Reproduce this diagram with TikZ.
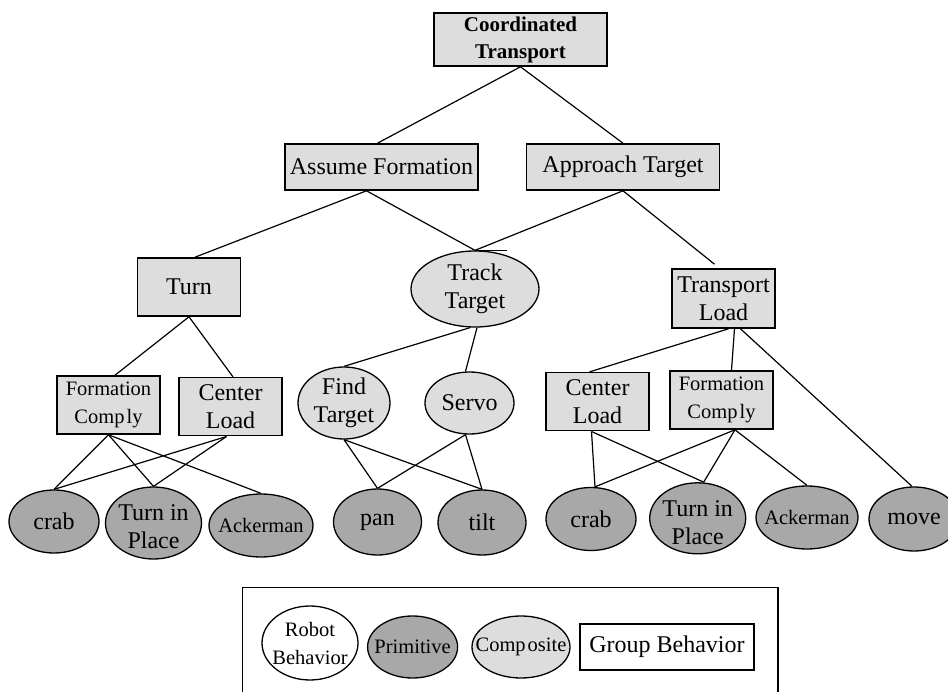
\documentclass[tikz,border=0pt]{standalone}
\usepackage{fontspec}
\setmainfont{Liberation Serif}
\usetikzlibrary{shapes.geometric}
\definecolor{compfill}{RGB}{221,221,221}
\definecolor{primfill}{RGB}{168,168,168}
\newcommand{\bhvbig}{\fontsize{24}{28}\selectfont}
\newcommand{\bhvsmall}{\fontsize{20.5}{28}\selectfont}
\newcommand{\bhvtitle}{\fontsize{21}{27}\selectfont\bfseries}
\begin{document}
\begin{tikzpicture}[x=1pt,y=-1pt,
  grp/.style={draw, fill=compfill, line width=1.6pt, inner sep=0pt, align=center, font=\bhvbig},
  plain/.style={draw, fill=white, line width=1.6pt, inner sep=0pt, align=center, font=\bhvbig},
  comp/.style={ellipse, draw, fill=compfill, line width=1.3pt, inner sep=0pt},
  prim/.style={ellipse, draw, fill=primfill, line width=1.3pt, inner sep=0pt},
  robot/.style={ellipse, draw, fill=white, line width=1.3pt, inner sep=0pt},
  lbl/.style={inner sep=0pt, align=center, font=\bhvbig},
  lblsmall/.style={inner sep=0pt, align=center, font=\bhvsmall},
  link/.style={line width=1.2pt}]
\clip (0,0) rectangle (948,692);

% group behaviours (boxes)
\node[grp, font=\bhvtitle, minimum width=173pt, minimum height=53pt] (ct) at (520.5,39.5) {Coordinated\\Transport};
\node[grp, minimum width=193pt, minimum height=46pt] (af) at (381.5,167) {Assume Formation};
\node[grp, minimum width=193pt, minimum height=46pt] (at) at (623,167) {Approach Target};
\node[grp, minimum width=103pt, minimum height=58pt] (turn) at (189,287) {Turn};
\node[grp, minimum width=103pt, minimum height=59pt] (tl) at (723.5,298.5) {Transport\\Load};
\node[grp, font=\bhvsmall, minimum width=103pt, minimum height=58pt] (fcl) at (108.5,405) {Formation\\Comp\kern2pt ly};
\node[grp, minimum width=103pt, minimum height=58pt] (cll) at (230.5,406.7) {Center\\Load};
\node[grp, minimum width=103pt, minimum height=58pt] (clr) at (597.5,401.7) {Center\\Load};
\node[grp, font=\bhvsmall, minimum width=103pt, minimum height=58pt] (fcr) at (721.5,400) {Formation\\Comp\kern2pt ly};

% composite robot behaviours
\node[comp, minimum width=128pt, minimum height=76pt] (tt) at (475,289) {};
\node[lbl] (tt-t) at (tt.center) {Track\\Target};
\node[comp, minimum width=92pt, minimum height=72pt] (ft) at (344,403) {};
\node[lbl] (ft-t) at (ft.center) {Find\\Target};
\node[comp, minimum width=89pt, minimum height=62pt] (servo) at (469.5,403) {};
\node[lbl] (servo-t) at (servo.center) {Servo};

% primitive robot behaviours
\node[prim, minimum width=90pt, minimum height=63pt] (crabl) at (54,521.5) {};
\node[lbl] (crabl-t) at (crabl.center) {crab};
\node[prim, minimum width=96pt, minimum height=72pt] (tipl) at (153.5,523) {};
\node[lbl] (tipl-t) at ([yshift=-4pt]tipl.center) {Turn in\\Place};
\node[prim, minimum width=104pt, minimum height=63pt] (ackl) at (261,525.5) {};
\node[lblsmall] (ackl-t) at (ackl.center) {Ackerman};
\node[prim, minimum width=88pt, minimum height=66pt] (pan) at (377.5,522) {};
\node[lbl] (pan-t) at (pan.center) {pan};
\node[prim, minimum width=88pt, minimum height=65pt] (tilt) at (482,522.5) {};
\node[lbl] (tilt-t) at (tilt.center) {tilt};
\node[prim, minimum width=90pt, minimum height=63pt] (crabr) at (591,519) {};
\node[lbl] (crabr-t) at (crabr.center) {crab};
\node[prim, minimum width=96pt, minimum height=71pt] (tipr) at (697.7,518.3) {};
\node[lbl] (tipr-t) at ([yshift=-4pt]tipr.center) {Turn in\\Place};
\node[prim, minimum width=102pt, minimum height=63pt] (ackr) at (807,517.5) {};
\node[lblsmall] (ackr-t) at (ackr.center) {Ackerman};
\node[prim, minimum width=90pt, minimum height=64pt] (move) at (914,519) {};
\node[lbl] (move-t) at (move.center) {move};

% connectors
\draw[link] (ct.south) -- ([xshift=-4pt]af.north);
\draw[link] (ct.south) -- (at.north);
\draw[link] ([xshift=-15pt]af.south) -- ([xshift=6pt]turn.north);
\draw[link] ([xshift=-15pt]af.south) -- (tt.north);
\draw[link] (at.south) -- (tt.north);
\coordinate (ttmark) at ([xshift=32pt]tt.north);
\draw[link] (tt.north) -- (ttmark);
\draw[link] (at.south) -- ([xshift=-9pt,yshift=4pt]tl.north);
\draw[link] (turn.south) -- ([xshift=6.5pt]fcl.north);
\draw[link] (turn.south) -- ([xshift=2.5pt]cll.north);
\draw[link] ([xshift=-5pt]tt.south) -- (ft.north);
\draw[link] ([xshift=2pt]tt.south) -- ([xshift=-4pt]servo.north);
\draw[link] ([xshift=5pt]tl.south) -- ([xshift=-8pt]clr.north);
\draw[link] ([xshift=11pt]tl.south) -- ([xshift=10pt]fcr.north);
\draw[link] ([xshift=17pt]tl.south) -- ([xshift=-2pt]move.north);
\draw[link] (fcl.south) -- (crabl.north);
\draw[link] (fcl.south) -- (tipl.north);
\draw[link] (fcl.south) -- (ackl.north);
\draw[link] ([xshift=-4pt]cll.south) -- (crabl.north);
\draw[link] ([xshift=-4pt]cll.south) -- (tipl.north);
\draw[link] (ft.south) -- (pan.north);
\draw[link] (ft.south) -- (tilt.north);
\draw[link] ([xshift=-4pt]servo.south) -- (pan.north);
\draw[link] ([xshift=-4pt]servo.south) -- (tilt.north);
\draw[link] ([xshift=-6pt]clr.south) -- ([xshift=4pt]crabr.north);
\draw[link] ([xshift=-6pt]clr.south) -- ([xshift=6pt]tipr.north);
\draw[link] ([xshift=13.5pt]fcr.south) -- ([xshift=4pt]crabr.north);
\draw[link] ([xshift=13.5pt]fcr.south) -- ([xshift=6pt]tipr.north);
\draw[link] ([xshift=13.5pt]fcr.south) -- (ackr.north);

% legend
\node[draw, line width=1.3pt, minimum width=535.5pt, minimum height=112.7pt, inner sep=0pt] (legend) at (510.25,643.65) {};
\node[robot, minimum width=96pt, minimum height=74pt] (lgrobot) at (310,643) {};
\node[lblsmall] (lgrobot-t) at (lgrobot.center) {Robot\\Behavior};
\node[prim, minimum width=90pt, minimum height=62pt] (lgprim) at (412.6,647) {};
\node[lblsmall] (lgprim-t) at (lgprim.center) {Primitive};
\node[comp, minimum width=98pt, minimum height=62pt] (lgcomp) at (521,647) {};
\node[lblsmall] (lgcomp-t) at (lgcomp.center) {Comp\kern2pt osite};
\node[plain, minimum width=174pt, minimum height=46pt] (lggroup) at (667,647) {Group Behavior};
\end{tikzpicture}
\end{document}
